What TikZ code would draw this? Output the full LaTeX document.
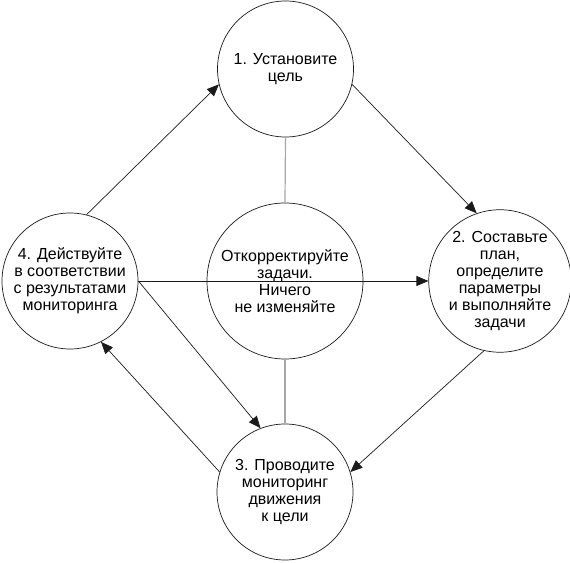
\documentclass[tikz,border=0pt]{standalone}
\usepackage{fontspec}
\setmainfont{Liberation Sans}
\usetikzlibrary{arrows.meta}
\definecolor{CYLine}{HTML}{1A1A1A}
\definecolor{CYGrey}{HTML}{A8A8A8}

\begin{document}
\begin{tikzpicture}[x=1pt,y=1pt,
  stage/.style={circle,draw=CYLine,line width=0.7pt,minimum size=136pt,inner sep=0pt,align=center,font=\fontsize{16}{17}\selectfont},
  hub/.style={stage,minimum size=156pt},
  flow/.style={draw=CYLine,line width=0.7pt,-{Triangle[length=12pt,width=10pt]}},
  link/.style={draw=CYGrey,line width=1.2pt}]
\path[use as bounding box] (0,0) rectangle (570,562);
\node[hub] (fix) at (285,281) {Откорректируйте\\задачи.\\Ничего\\не изменяйте};
\node[stage] (goal) at (285.5,493) {1. Установите\\цель};
\node[stage] (plan) at (500,281) {2. Составьте\\план,\\определите\\параметры\\и выполняйте\\задачи};
\node[stage] (watch) at (285,70) {3. Проводите\\мониторинг\\движения\\к цели};
\node[stage] (act) at (70,281) {4. Действуйте\\в соответствии\\с результатами\\мониторинга};
\draw[link] (goal.south) -- (fix.north);
\draw[link] (fix.south) -- (watch.north);
\draw[flow] (act.76) -- (goal.193);
\draw[flow] (goal.-13) -- (plan.109);
\draw[flow] (plan.257) -- (watch.17);
\draw[flow] (watch.163) -- (act.297);
\draw[flow] (act.east) -- (plan.west);
\draw[flow] (act.east) -- (watch.111);
\end{tikzpicture}
\end{document}
